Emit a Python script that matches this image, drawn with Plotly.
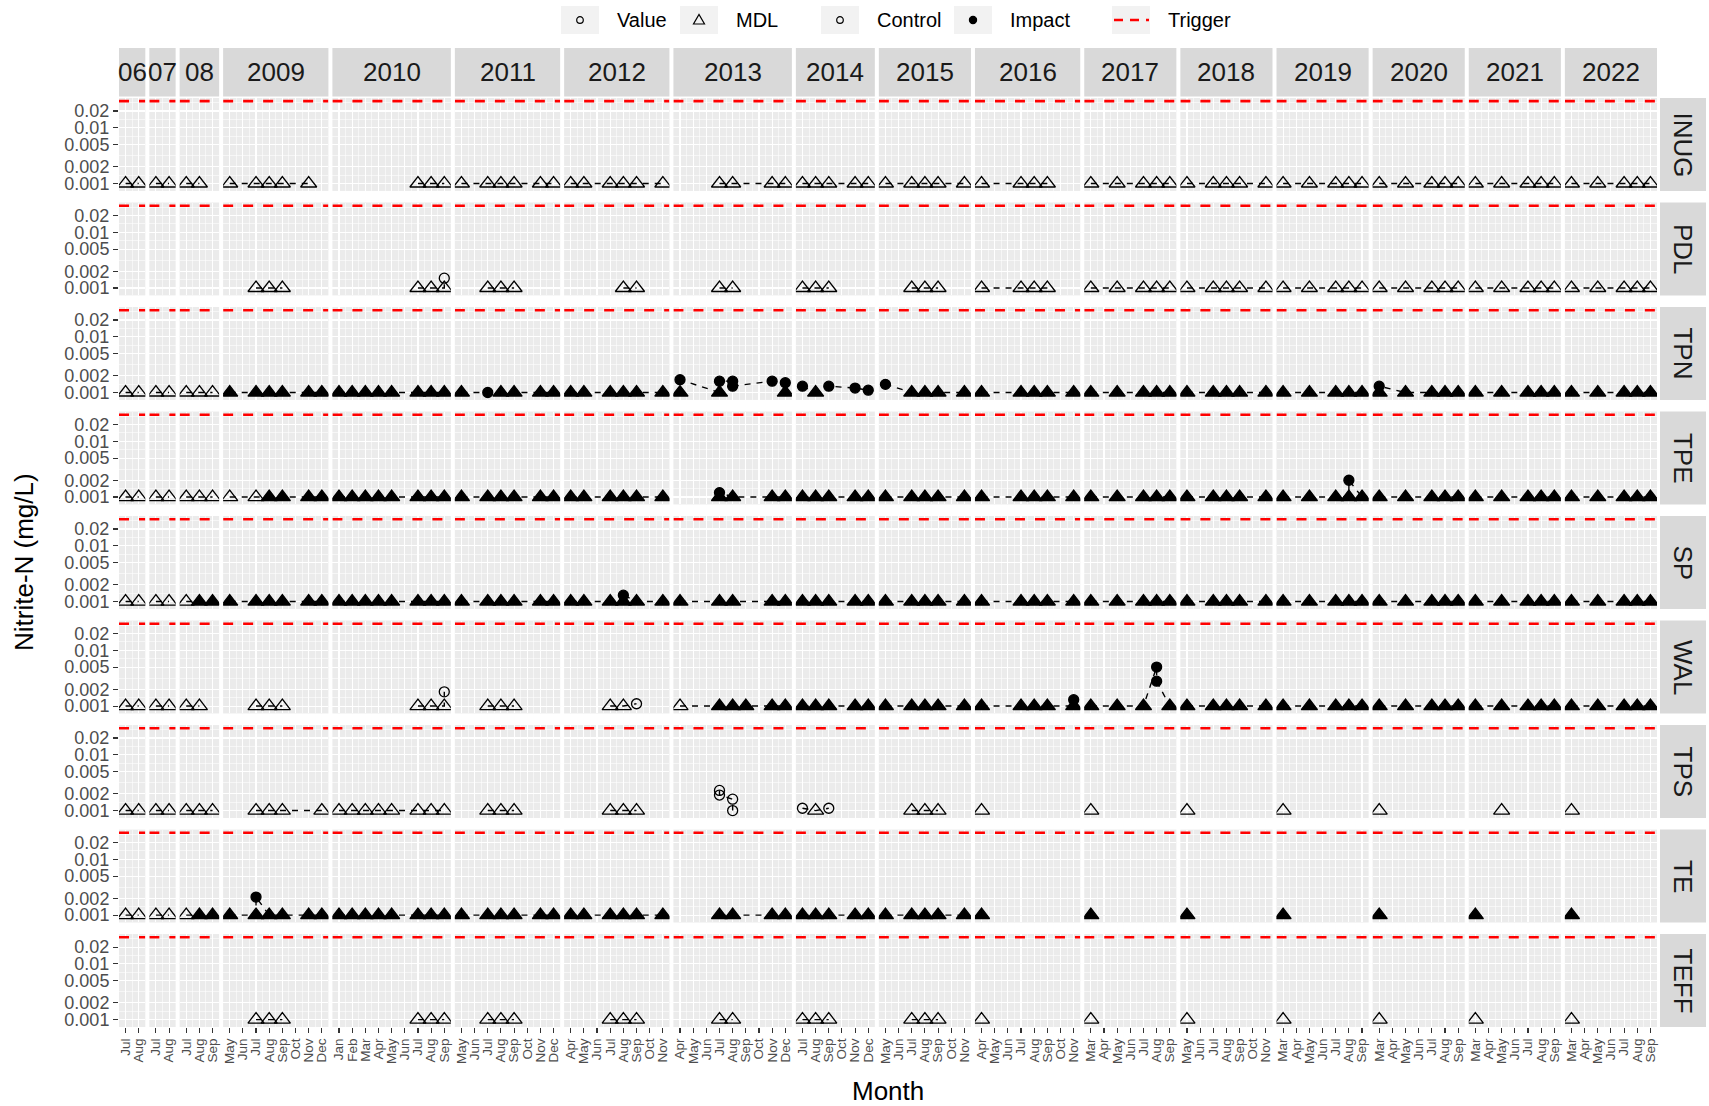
import plotly.graph_objects as go

# ---------------- data ----------------
YEAR_LABELS = ["06", "07", "08", "2009", "2010", "2011", "2012", "2013", "2014",
               "2015", "2016", "2017", "2018", "2019", "2020", "2021", "2022"]

AXIS_MONTHS = {
    "06": ["Jul", "Aug"],
    "07": ["Jul", "Aug"],
    "08": ["Jul", "Aug", "Sep"],
    "2009": ["May", "Jun", "Jul", "Aug", "Sep", "Oct", "Nov", "Dec"],
    "2010": ["Jan", "Feb", "Mar", "Apr", "May", "Jun", "Jul", "Aug", "Sep"],
    "2011": ["May", "Jun", "Jul", "Aug", "Sep", "Oct", "Nov", "Dec"],
    "2012": ["Apr", "May", "Jun", "Jul", "Aug", "Sep", "Oct", "Nov"],
    "2013": ["Apr", "May", "Jun", "Jul", "Aug", "Sep", "Oct", "Nov", "Dec"],
    "2014": ["Jul", "Aug", "Sep", "Oct", "Nov", "Dec"],
    "2015": ["May", "Jun", "Jul", "Aug", "Sep", "Oct", "Nov"],
    "2016": ["Apr", "May", "Jun", "Jul", "Aug", "Sep", "Oct", "Nov"],
    "2017": ["Mar", "Apr", "May", "Jun", "Jul", "Aug", "Sep"],
    "2018": ["May", "Jun", "Jul", "Aug", "Sep", "Oct", "Nov"],
    "2019": ["Mar", "Apr", "May", "Jun", "Jul", "Aug", "Sep"],
    "2020": ["Mar", "Apr", "May", "Jun", "Jul", "Aug", "Sep"],
    "2021": ["Mar", "Apr", "May", "Jun", "Jul", "Aug", "Sep"],
    "2022": ["Mar", "Apr", "May", "Jun", "Jul", "Aug", "Sep"],
}

SITES = ["INUG", "PDL", "TPN", "TPE", "SP", "WAL", "TPS", "TE", "TEFF"]

MDL_VALUE = 0.001      # samples below detection plotted at the MDL
TRIGGER = 0.03         # mg/L

Y_BREAKS = [0.001, 0.002, 0.005, 0.01, 0.02]
Y_BREAK_LABELS = ["0.001", "0.002", "0.005", "0.01", "0.02"]

# first sample classed as "Impact" for each site (earlier samples are "Control")
IMPACT_START = {"TPN": ("2009", "May"), "TPE": ("2009", "Aug"), "SP": ("08", "Aug"),
                "TE": ("08", "Aug"), "WAL": ("2013", "Jul")}

# tokens: "Mon" = result below MDL ; "Mon=value" = measured value (mg/L)
INUG_SAMPLES = {
    "06": "Jul Aug", "07": "Jul Aug", "08": "Jul Aug",
    "2009": "May Jul Aug Sep Nov", "2010": "Jul Aug Sep",
    "2011": "May Jul Aug Sep Nov Dec", "2012": "Apr May Jul Aug Sep Nov",
    "2013": "Jul Aug Nov Dec", "2014": "Jul Aug Sep Nov Dec",
    "2015": "May Jul Aug Sep Nov", "2016": "Apr Jul Aug Sep",
    "2017": "Mar May Jul Aug Sep", "2018": "May Jul Aug Sep Nov",
    "2019": "Mar May Jul Aug Sep", "2020": "Mar May Jul Aug Sep",
    "2021": "Mar May Jul Aug Sep", "2022": "Mar May Jul Aug Sep",
}
PDL_SAMPLES = {
    "2009": "Jul Aug Sep", "2010": "Jul Aug Sep Sep=0.0015", "2011": "Jul Aug Sep",
    "2012": "Aug Sep", "2013": "Jul Aug", "2014": "Jul Aug Sep", "2015": "Jul Aug Sep",
    "2016": "Apr Jul Aug Sep", "2017": "Mar May Jul Aug Sep", "2018": "May Jul Aug Sep Nov",
    "2019": "Mar May Jul Aug Sep", "2020": "Mar May Jul Aug Sep",
    "2021": "Mar May Jul Aug Sep", "2022": "Mar May Jul Aug Sep",
}
TPN_SAMPLES = {
    "06": "Jul Aug", "07": "Jul Aug", "08": "Jul Aug Sep",
    "2009": "May Jul Aug Sep Nov Dec", "2010": "Jan Feb Mar Apr May Jul Aug Sep",
    "2011": "May Jul=0.001 Aug Sep Nov Dec", "2012": "Apr May Jul Aug Sep Nov",
    "2013": "Apr Apr=0.0017 Jul Jul=0.0016 Aug=0.0016 Aug=0.0013 Nov=0.0016 Dec=0.0015 Dec",
    "2014": "Jul=0.0013 Aug Sep=0.0013 Nov=0.0012 Dec=0.0011",
    "2015": "May=0.0014 Jul Aug Sep Nov", "2016": "Apr Jul Aug Sep Nov",
    "2017": "Mar May Jul Aug Sep", "2018": "May Jul Aug Sep Nov",
    "2019": "Mar May Jul Aug Sep", "2020": "Mar Mar=0.0013 May Jul Aug Sep",
    "2021": "Mar May Jul Aug Sep", "2022": "Mar May Jul Aug Sep",
}
TPE_SAMPLES = {
    "06": "Jul Aug", "07": "Jul Aug", "08": "Jul Aug Sep",
    "2009": "May Jul Aug Sep Nov Dec", "2010": "Jan Feb Mar Apr May Jul Aug Sep",
    "2011": "May Jul Aug Sep Nov Dec", "2012": "Apr May Jul Aug Sep Nov",
    "2013": "Jul Jul=0.0012 Aug Nov Dec", "2014": "Jul Aug Sep Nov Dec",
    "2015": "May Jul Aug Sep Nov", "2016": "Apr Jul Aug Sep Nov",
    "2017": "Mar May Jul Aug Sep", "2018": "May Jul Aug Sep Nov",
    "2019": "Mar May Jul Aug Aug=0.002 Sep", "2020": "Mar May Jul Aug Sep",
    "2021": "Mar May Jul Aug Sep", "2022": "Mar May Jul Aug Sep",
}
SP_SAMPLES = {
    "06": "Jul Aug", "07": "Jul Aug", "08": "Jul Aug Sep",
    "2009": "May Jul Aug Sep Nov Dec", "2010": "Jan Feb Mar Apr May Jul Aug Sep",
    "2011": "May Jul Aug Sep Nov Dec", "2012": "Apr May Jul Aug Aug=0.0013 Sep Nov",
    "2013": "Apr Jul Aug Nov Dec", "2014": "Jul Aug Sep Nov Dec",
    "2015": "May Jul Aug Sep Nov", "2016": "Apr Jul Aug Sep Nov",
    "2017": "Mar May Jul Aug Sep", "2018": "May Jul Aug Sep Nov",
    "2019": "Mar May Jul Aug Sep", "2020": "Mar May Jul Aug Sep",
    "2021": "Mar May Jul Aug Sep", "2022": "Mar May Jul Aug Sep",
}
WAL_SAMPLES = {
    "06": "Jul Aug", "07": "Jul Aug", "08": "Jul Aug",
    "2009": "Jul Aug Sep", "2010": "Jul Aug Sep Sep=0.0018", "2011": "Jul Aug Sep",
    "2012": "Jul Aug Sep=0.0011", "2013": "Apr Jul Aug Sep Nov Dec",
    "2014": "Jul Aug Sep Nov Dec", "2015": "May Jul Aug Sep Nov",
    "2016": "Apr Jul Aug Sep Nov Nov=0.0013",
    "2017": "Mar May Jul Aug=0.005 Aug=0.0028 Sep", "2018": "May Jul Aug Sep Nov",
    "2019": "Mar May Jul Aug Sep", "2020": "Mar May Jul Aug Sep",
    "2021": "Mar May Jul Aug Sep", "2022": "Mar May Jul Aug Sep",
}
TPS_SAMPLES = {
    "06": "Jul Aug", "07": "Jul Aug", "08": "Jul Aug Sep",
    "2009": "Jul Aug Sep Dec", "2010": "Jan Feb Mar Apr May Jul Aug Sep",
    "2011": "Jul Aug Sep", "2012": "Jul Aug Sep",
    "2013": "Jul=0.0023 Jul=0.0019 Aug=0.0016 Aug=0.001",
    "2014": "Jul=0.0011 Aug Sep=0.0011", "2015": "Jul Aug Sep",
    "2016": "Apr", "2017": "Mar", "2018": "May", "2019": "Mar",
    "2020": "Mar", "2021": "May", "2022": "Mar",
}
TE_SAMPLES = {
    "06": "Jul Aug", "07": "Jul Aug", "08": "Jul Aug Sep",
    "2009": "May Jul Jul=0.0021 Aug Sep Nov Dec", "2010": "Jan Feb Mar Apr May Jul Aug Sep",
    "2011": "May Jul Aug Sep Nov Dec", "2012": "Apr May Jul Aug Sep Nov",
    "2013": "Jul Aug Nov Dec", "2014": "Jul Aug Sep Nov Dec",
    "2015": "May Jul Aug Sep Nov", "2016": "Apr", "2017": "Mar", "2018": "May",
    "2019": "Mar", "2020": "Mar", "2021": "Mar", "2022": "Mar",
}
TEFF_SAMPLES = {
    "2009": "Jul Aug Sep", "2010": "Jul Aug Sep", "2011": "Jul Aug Sep",
    "2012": "Jul Aug Sep", "2013": "Jul Aug", "2014": "Jul Aug Sep", "2015": "Jul Aug Sep",
    "2016": "Apr", "2017": "Mar", "2018": "May", "2019": "Mar",
    "2020": "Mar", "2021": "Mar", "2022": "Mar",
}
SAMPLES = {"INUG": INUG_SAMPLES, "PDL": PDL_SAMPLES, "TPN": TPN_SAMPLES,
           "TPE": TPE_SAMPLES, "SP": SP_SAMPLES, "WAL": WAL_SAMPLES,
           "TPS": TPS_SAMPLES, "TE": TE_SAMPLES, "TEFF": TEFF_SAMPLES}

# ---------------- geometry / style ----------------
W, H = 1709, 1106
ML, MR, MT, MB = 119, 52, 98, 79
PW, PH = W - ML - MR, H - MT - MB
GAPX, GAPY = 4.0, 11.6
YRANGE = [-3.133, -1.466]
FONT = "Liberation Sans, Arial, sans-serif"
NCOL, NROW = len(YEAR_LABELS), len(SITES)
n_total = sum(len(AXIS_MONTHS[y]) for y in YEAR_LABELS)
MW = (PW - GAPX * (NCOL - 1)) / n_total
RH = (PH - GAPY * (NROW - 1)) / NROW


def px2x(px):
    return (px - ML) / PW


def px2y(py):
    return (MT + PH - py) / PH


col_dom = []
pos = 0.0
for yl in YEAR_LABELS:
    w = len(AXIS_MONTHS[yl]) * MW
    col_dom.append((pos / PW, (pos + w) / PW))
    pos += w + GAPX
row_dom = []
for r in range(NROW):
    top = r * (RH + GAPY)
    row_dom.append((1 - (top + RH) / PH, 1 - top / PH))


def order_key(yl, mon):
    return (YEAR_LABELS.index(yl), AXIS_MONTHS[yl].index(mon))


fig = go.Figure()
layout = {}
y_minor = [10 ** (-3 - 0.1505), 0.0014142, 0.0031623, 0.0070711, 0.0141421, 0.0282843]

for r, site in enumerate(SITES):
    for c, yl in enumerate(YEAR_LABELS):
        k = r * NCOL + c + 1
        xa = "x" if k == 1 else f"x{k}"
        ya = "y" if k == 1 else f"y{k}"
        months = AXIS_MONTHS[yl]
        n = len(months)
        layout["xaxis" if k == 1 else f"xaxis{k}"] = dict(
            domain=list(col_dom[c]), anchor=ya, range=[-0.5, n - 0.5],
            tickmode="array", tickvals=list(range(n)), ticktext=months,
            showticklabels=(r == NROW - 1), ticks="outside" if r == NROW - 1 else "",
            ticklen=5, tickwidth=1.1, tickcolor="#333333", tickangle=-90,
            tickfont=dict(size=13.5, color="#4D4D4D", family=FONT),
            showgrid=True, gridcolor="white", gridwidth=1.1, zeroline=False,
            showline=False, fixedrange=True,
            minor=dict(tickmode="array", tickvals=[i + 0.5 for i in range(-1, n)],
                       showgrid=True, gridcolor="white", gridwidth=0.55, ticks=""),
        )
        layout["yaxis" if k == 1 else f"yaxis{k}"] = dict(
            domain=list(row_dom[r]), anchor=xa, type="log", range=YRANGE,
            tickmode="array", tickvals=Y_BREAKS, ticktext=Y_BREAK_LABELS,
            showticklabels=(c == 0), ticks="outside" if c == 0 else "",
            ticklen=5, tickwidth=1.1, tickcolor="#333333",
            tickfont=dict(size=18, color="#4D4D4D", family=FONT),
            showgrid=True, gridcolor="white", gridwidth=1.1, zeroline=False,
            showline=False, fixedrange=True,
            minor=dict(tickmode="array", tickvals=y_minor, showgrid=True,
                       gridcolor="white", gridwidth=0.55, ticks=""),
        )
        # trigger line
        fig.add_trace(go.Scatter(
            x=[-0.5, n - 0.5], y=[TRIGGER, TRIGGER], mode="lines",
            line=dict(color="#FF0000", width=2.6, dash="10px,10px"),
            xaxis=xa, yaxis=ya, hoverinfo="skip", showlegend=False))
        tokens = SAMPLES[site].get(yl, "").split()
        if not tokens:
            continue
        pts = []
        for i, tok in enumerate(tokens):
            if "=" in tok:
                mon, v = tok.split("=")
                val, shape, size = float(v), "circle", 10
            else:
                mon, val, shape, size = tok, MDL_VALUE, "triangle-up", 14
            imp = site in IMPACT_START and order_key(yl, mon) >= order_key(*IMPACT_START[site])
            sym = shape if imp else shape + "-open"
            pts.append((months.index(mon), i, val, sym, size))
        pts.sort()
        fig.add_trace(go.Scatter(
            x=[p[0] for p in pts], y=[p[2] for p in pts], mode="lines+markers",
            line=dict(color="black", width=1.4, dash="6px,6px"),
            marker=dict(symbol=[p[3] for p in pts], size=[p[4] for p in pts],
                        color="black", opacity=1, line=dict(color="black", width=1.3)),
            xaxis=xa, yaxis=ya, hoverinfo="skip", showlegend=False))

shapes = []
annotations = []
# year strips
for c, yl in enumerate(YEAR_LABELS):
    x0, x1 = col_dom[c]
    shapes.append(dict(type="rect", xref="paper", yref="paper", x0=x0, x1=x1,
                       y0=px2y(96.5), y1=px2y(48), fillcolor="#D9D9D9", line=dict(width=0),
                       layer="below"))
    annotations.append(dict(text=yl, xref="paper", yref="paper", x=(x0 + x1) / 2,
                            y=px2y(72), showarrow=False, xanchor="center", yanchor="middle",
                            font=dict(size=26, color="#1A1A1A", family=FONT)))
# site strips
for r, site in enumerate(SITES):
    y0, y1 = row_dom[r]
    shapes.append(dict(type="rect", xref="paper", yref="paper", x0=px2x(1660), x1=px2x(1706),
                       y0=y0, y1=y1, fillcolor="#D9D9D9", line=dict(width=0), layer="below"))
    annotations.append(dict(text=site, xref="paper", yref="paper", x=px2x(1683),
                            y=(y0 + y1) / 2, showarrow=False, textangle=90,
                            xanchor="center", yanchor="middle",
                            font=dict(size=26, color="#1A1A1A", family=FONT)))

# axis titles
annotations.append(dict(text="Month", xref="paper", yref="paper", x=0.5, y=px2y(1091),
                        showarrow=False, xanchor="center", yanchor="middle",
                        font=dict(size=26, color="black", family=FONT)))
annotations.append(dict(text="Nitrite-N (mg/L)", xref="paper", yref="paper", x=px2x(24),
                        y=px2y(562), showarrow=False, textangle=-90, xanchor="center",
                        yanchor="middle", font=dict(size=26, color="black", family=FONT)))

# legend (drawn manually, ggplot style)
LEG_Y = 20
legend_items = [
    (561, 615, "Value"), (680, 734, "MDL"), (821, 875, "Control"),
    (954, 1008, "Impact"), (1112, 1166, "Trigger"),
]
for kx, tx, label in legend_items:
    shapes.append(dict(type="rect", xref="paper", yref="paper", x0=px2x(kx), x1=px2x(kx + 38),
                       y0=px2y(34), y1=px2y(6), fillcolor="#F2F2F2", line=dict(width=0)))
    annotations.append(dict(text=label, xref="paper", yref="paper", x=px2x(tx), y=px2y(LEG_Y),
                            showarrow=False, xanchor="left", yanchor="middle",
                            font=dict(size=20, color="black", family=FONT)))


def pix_circle(cx, cy, rad, filled):
    return dict(type="circle", xref="paper", yref="paper", xsizemode="pixel",
                ysizemode="pixel", xanchor=px2x(cx), yanchor=px2y(cy),
                x0=-rad, x1=rad, y0=-rad, y1=rad,
                fillcolor="black" if filled else "rgba(0,0,0,0)",
                line=dict(color="black", width=1.2))


shapes.append(pix_circle(580, LEG_Y, 3.3, False))
shapes.append(pix_circle(840, LEG_Y, 3.3, False))
shapes.append(pix_circle(973, LEG_Y, 3.6, True))
shapes.append(dict(type="path", xref="paper", yref="paper", xsizemode="pixel",
                   ysizemode="pixel", xanchor=px2x(699), yanchor=px2y(LEG_Y),
                   path="M -5.5,-4 L 5.5,-4 L 0,5.5 Z", line=dict(color="black", width=1.2),
                   fillcolor="rgba(0,0,0,0)"))
shapes.append(dict(type="line", xref="paper", yref="paper", x0=px2x(1114), x1=px2x(1149),
                   y0=px2y(LEG_Y), y1=px2y(LEG_Y),
                   line=dict(color="#FF0000", width=2.6, dash="9px,7px")))

fig.update_layout(
    width=W, height=H, margin=dict(l=ML, r=MR, t=MT, b=MB),
    paper_bgcolor="white", plot_bgcolor="#EBEBEB", showlegend=False,
    font=dict(family=FONT), shapes=shapes, annotations=annotations, **layout)

fig.write_html("out.html", config={"displayModeBar": False, "staticPlot": True},
               post_script="document.body.style.margin='0';document.body.style.padding='0';"
                           "document.body.style.overflow='hidden';")
